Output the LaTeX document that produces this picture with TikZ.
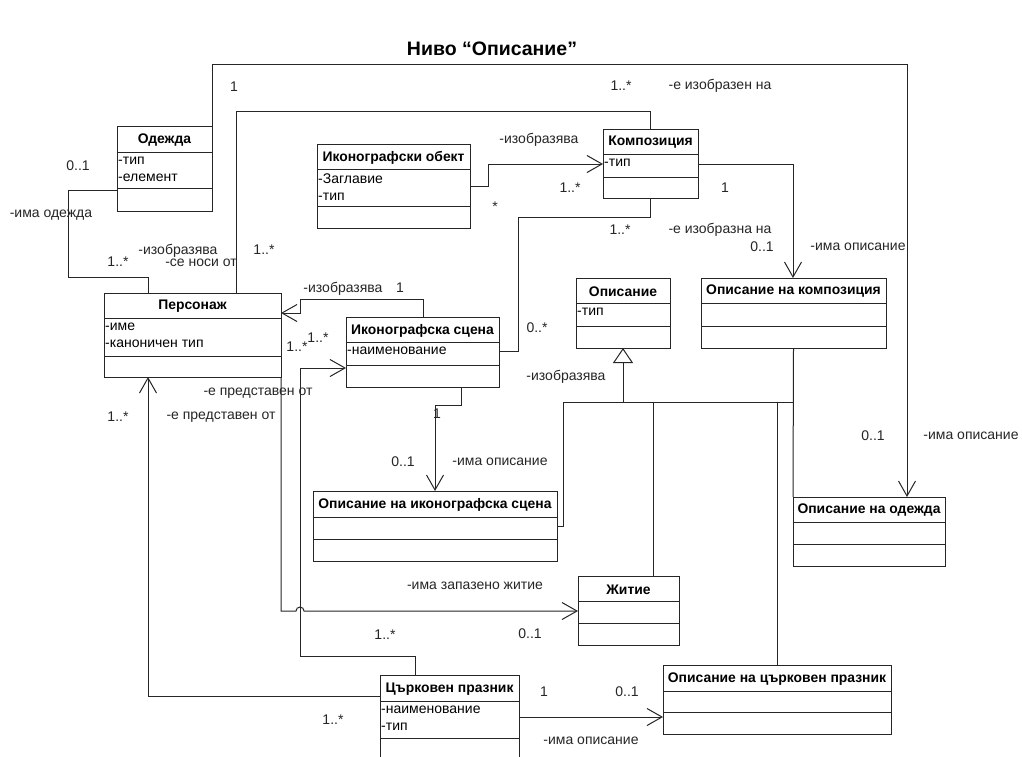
\documentclass[tikz,border=0pt]{standalone}
\usepackage{fontspec}
\setmainfont{Liberation Sans}
\usetikzlibrary{arrows.meta,fit,calc}
\newcommand{\umlcls}[9]{%
  \node[clsbox, fit={(#2,#3)(#4,#5)}] (#1) {};
  \draw[assoc] (#2,#6) -- (#4,#6) (#2,#7) -- (#4,#7);
  \node[clsname] (#1-n) at ($(#2,#3)!0.5!(#4,#6)$) {#8};
  \node[clsattr] (#1-a) at (#2,#6) {#9};
}
\begin{document}
\begin{tikzpicture}[x=1pt,y=-1pt,
  assoc/.style={draw=black!85, line width=1pt},
  nav/.style={assoc, -{Straight Barb[length=15pt,width=17pt,line width=1pt]}},
  gen/.style={assoc, -{Triangle[open,length=15pt,width=20pt,line width=1pt]}},
  clsbox/.style={draw=black!85, line width=1pt, inner sep=0pt, outer sep=0pt},
  clsname/.style={font=\fontsize{13.9}{16}\selectfont\bfseries, inner sep=0pt, yshift=-1pt},
  clsattr/.style={anchor=north west, align=left, inner sep=1pt, yshift=-3.5pt, font=\fontsize{14}{17.5}\selectfont},
  lbl/.style={font=\fontsize{14}{16}\selectfont, text=black!85, inner sep=0pt}]
\path[use as bounding box, clip] (0,0) rectangle (1022,756);
\fill[white] (0,0) rectangle (1022,756);

\node[font=\fontsize{19.5}{22}\selectfont\bfseries] (title) at (492,49) {Ниво “Описание”};

\umlcls{odezhda}{117}{126}{212}{211}{152}{188}{Одежда}{-тип\\-елемент}
\umlcls{ikobekt}{317}{144}{470}{228}{169}{206}{Иконографски обект}{-Заглавие\\-тип}
\umlcls{kompoz}{603}{129}{698}{198}{154}{177}{Композиция}{-тип}
\umlcls{personazh}{104}{293}{281}{377}{318}{356}{Персонаж}{-име\\-каноничен тип}
\umlcls{ikscena}{346}{317}{499}{387}{342}{365}{Иконографска сцена}{-наименование}
\umlcls{opisanie}{576}{278}{670}{348}{303}{326}{Описание}{-тип}
\umlcls{opkomp}{701}{278}{886}{348}{303}{326}{Описание на композиция}{}
\umlcls{opiksc}{313}{491}{557}{561}{517}{539}{Описание на иконографска сцена}{}
\umlcls{opodezhda}{793}{497}{945}{566}{522}{544}{Описание на одежда}{}
\umlcls{zhitie}{578}{576}{679}{645}{601}{623}{Житие}{}
\umlcls{opcp}{663}{665}{891}{734}{691}{712}{Описание на църковен празник}{}
\umlcls{tsprazn}{380}{675}{519}{775}{701}{738}{Църковен празник}{-наименование\\-тип}

% connectors
\draw[nav] (odezhda.north east) -- (212,64) -- (907,64) -- (907,0 |- opodezhda.north);
\draw[assoc] (236,0 |- personazh.north) -- (236,111) -- (650,111) -- (650,0 |- kompoz.north);
\draw[assoc] (0,190 -| odezhda.west) -- (68,190) -- (68,277) -- (148,277) -- (148,0 |- personazh.north);
\draw[nav] (0,186 -| ikobekt.east) -- (488,186) -- (488,164) -- (0,164 -| kompoz.west);
\draw[assoc] (650,0 |- kompoz.south) -- (650,217) -- (518,217) -- (518,351) -- (0,351 -| ikscena.east);
\draw[nav] (0,164 -| kompoz.east) -- (793,164) -- (793,0 |- opkomp.north);
\draw[nav] (423,0 |- ikscena.north) -- (423,299) -- (300,299) -- (300,313) -- (0,313 -| personazh.east);
\draw[nav] (415,0 |- tsprazn.north) -- (415,656) -- (300,656) -- (300,368) -- (0,368 -| ikscena.west);
\draw[nav] (personazh.south east) -- (281,611) -- (296,611) arc[start angle=180,end angle=360,radius=4] -- (0,611 -| zhitie.west);
\draw[nav] (0,696 -| tsprazn.west) -- (148,696) -- (148,0 |- personazh.south);
\draw[nav] (461,0 |- ikscena.south) -- (461,405) -- (435,405) -- (435,0 |- opiksc.north);
\draw[nav] (0,717 -| tsprazn.east) -- (0,717 -| opcp.west);
% generalization
\draw[gen] (623,402) -- (623,0 |- opisanie.south);
\draw[assoc] (0,526 -| opiksc.east) -- (563,526) -- (563,402) -- (793,402);
\draw[assoc] (opkomp.south) -- (opodezhda.north west);
\draw[assoc] (653,402) -- (653,0 |- zhitie.north);
\draw[assoc] (777,402) -- (777,0 |- opcp.north);

% labels
\node[lbl] (l1) at (234,87) {1};
\node[lbl] (l2) at (621,86) {1..*};
\node[lbl] (l3) at (720,86) {-е изобразен на};
\node[lbl] (l4) at (78,166) {0..1};
\node[lbl] (l5) at (51,215) {-има одежда};
\node[lbl] (l6) at (118,262) {1..*};
\node[lbl] (l7) at (178,251) {-изобразява};
\node[lbl] (l8) at (201,263) {-се носи от};
\node[lbl] (l9) at (264,250) {1..*};
\node[lbl] (l10) at (539,140) {-изобразява};
\node[lbl] (l11) at (570,188) {1..*};
\node[lbl] (l12) at (495,207) {*};
\node[lbl] (l13) at (725,188) {1};
\node[lbl] (l14) at (620,230) {1..*};
\node[lbl] (l15) at (720,230) {-е изобразна на};
\node[lbl] (l16) at (762,247) {0..1};
\node[lbl] (l17) at (858,247) {-има описание};
\node[lbl] (l18) at (343,289) {-изобразява};
\node[lbl] (l19) at (400,288) {1};
\node[lbl] (l20) at (297,347) {1..*};
\node[lbl] (l21) at (318,338) {1..*};
\node[lbl] (l22) at (537,328) {0..*};
\node[lbl] (l23) at (566,377) {-изобразява};
\node[lbl] (l24) at (258,393) {-е представен от};
\node[lbl] (l25) at (221,417) {-е представен от};
\node[lbl] (l26) at (118,417) {1..*};
\node[lbl] (l27) at (437,414) {1};
\node[lbl] (l28) at (403,462) {0..1};
\node[lbl] (l29) at (500,462) {-има описание};
\node[lbl] (l30) at (873,436) {0..1};
\node[lbl] (l31) at (971,436) {-има описание};
\node[lbl] (l32) at (475,586) {-има запазено житие};
\node[lbl] (l33) at (385,635) {1..*};
\node[lbl] (l34) at (530,634) {0..1};
\node[lbl] (l35) at (544,692) {1};
\node[lbl] (l36) at (627,692) {0..1};
\node[lbl] (l37) at (591,741) {-има описание};
\node[lbl] (l38) at (333,720) {1..*};
\end{tikzpicture}
\end{document}
